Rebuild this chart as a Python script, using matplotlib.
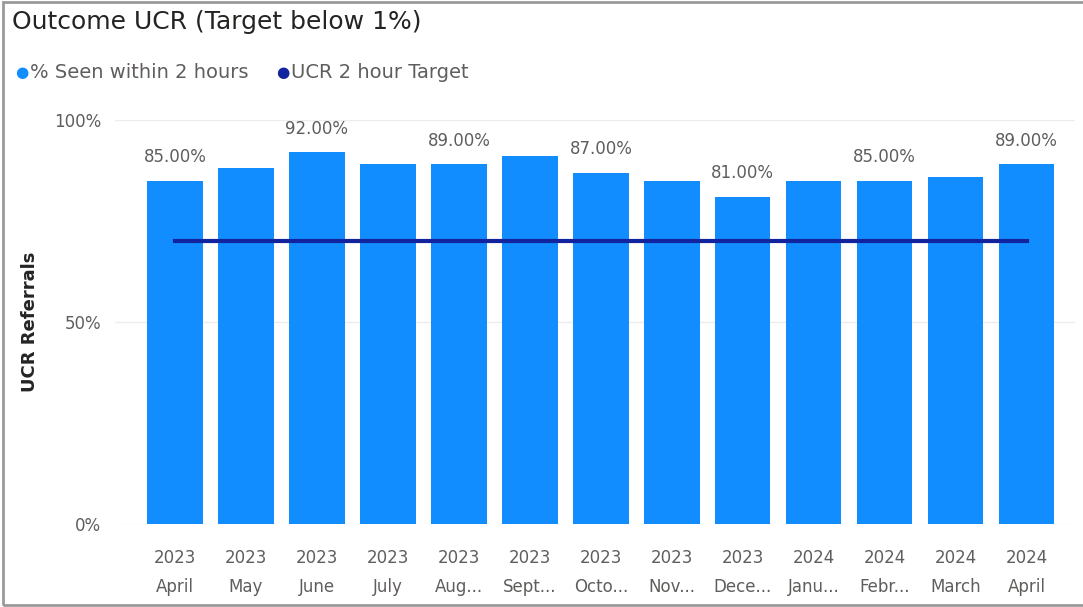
import matplotlib.pyplot as plt
from matplotlib.patches import Rectangle

# Datos mensuales
anios = ['2023', '2023', '2023', '2023', '2023', '2023', '2023', '2023', '2023',
         '2024', '2024', '2024', '2024']
meses = ['April', 'May', 'June', 'July', 'Aug...', 'Sept...', 'Octo...', 'Nov...',
         'Dece...', 'Janu...', 'Febr...', 'March', 'April']
vistos_2h = [85, 88, 92, 89, 89, 91, 87, 85, 81, 85, 85, 86, 89]
objetivo_2h = [70, 70, 70, 70, 70, 70, 70, 70, 70, 70, 70, 70, 70]

AZUL = '#118DFF'
AZUL_OSCURO = '#12239E'
GRIS = '#605E5C'

plt.rcParams['font.family'] = ['DejaVu Sans']

fig = plt.figure(figsize=(10.83, 6.07), dpi=100)
ax = fig.add_axes([0.1062, 0.1367, 0.8864, 0.6656])

x = list(range(len(meses)))
bars = ax.bar(x, vistos_2h, width=0.78, color=AZUL, zorder=2)
ax.plot(x, objetivo_2h, color=AZUL_OSCURO, linewidth=3, zorder=3)

# Etiquetas de valor en barras alternas
for i, (bar, valor) in enumerate(zip(bars, vistos_2h)):
    if i % 2 == 0:
        ax.text(bar.get_x() + bar.get_width() / 2, valor + 3.6, f'{valor:.2f}%',
                ha='center', va='bottom', fontsize=12, color=GRIS, clip_on=False)

ax.set_xlim(-0.845, 12.68)
ax.set_ylim(0, 100)
ax.set_yticks([0, 50, 100])
ax.set_yticklabels(['0%', '50%', '100%'])
ax.set_xticks(x)
ax.set_xticklabels([f'{a}\n{m}' for a, m in zip(anios, meses)], linespacing=1.75)
ax.tick_params(axis='both', length=0, labelsize=12, labelcolor=GRIS)
ax.tick_params(axis='x', pad=18)
ax.tick_params(axis='y', pad=10)
ax.grid(axis='y', color='#EDEDED', linewidth=1, zorder=0)
for s in ax.spines.values():
    s.set_visible(False)

fig.text(0.028, 0.47, 'UCR Referrals', fontsize=13, fontweight='bold', color='#252423',
         rotation=90, va='center', ha='center')

fig.text(0.011, 0.963, 'Outcome UCR (Target below 1%)', fontsize=18,
         color='#252423', va='center', ha='left')

# Leyenda manual
fig.text(0.014, 0.881, '●', fontsize=11, color=AZUL, va='center', ha='left')
fig.text(0.028, 0.881, '% Seen within 2 hours', fontsize=14, color=GRIS, va='center', ha='left')
fig.text(0.255, 0.881, '●', fontsize=11, color=AZUL_OSCURO, va='center', ha='left')
fig.text(0.269, 0.881, 'UCR 2 hour Target', fontsize=14, color=GRIS, va='center', ha='left')

# Marco del visual
fig.patches.append(Rectangle((0.003, 0.003), 1.2, 0.993, transform=fig.transFigure,
                             fill=False, edgecolor='#9A9A9A', linewidth=2))

fig.savefig('out.png', dpi=100)
